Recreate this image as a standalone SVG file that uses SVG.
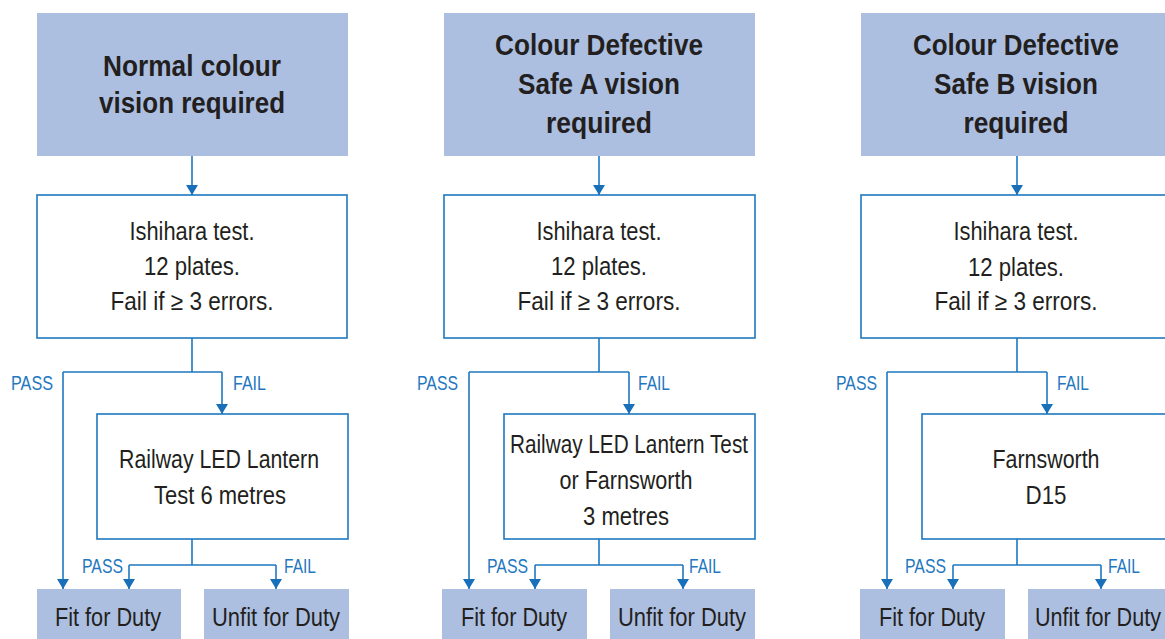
<svg xmlns="http://www.w3.org/2000/svg" width="1165" height="639" viewBox="0 0 1165 639">
<defs>
<marker id="ah" markerUnits="userSpaceOnUse" markerWidth="12" markerHeight="10" refX="6" refY="10" orient="0" viewBox="0 0 12 10">
<path d="M0,0 L12,0 L6,10 Z" fill="#1a70b8"/>
</marker>
<style>
.hdr{fill:#adbfe1}
.box{fill:#fff;stroke:#1f78c0;stroke-width:1.6}
.ht{font-family:"Liberation Sans",Arial,sans-serif;font-weight:bold;font-size:29px;fill:#231f20;text-anchor:middle}
.bt{font-family:"Liberation Sans",Arial,sans-serif;font-size:25px;fill:#231f20;text-anchor:middle}
.ft{font-family:"Liberation Sans",Arial,sans-serif;font-size:26px;fill:#231f20;text-anchor:middle}
.lb{font-family:"Liberation Sans",Arial,sans-serif;font-size:20px;fill:#1f78c0}
.c{fill:none;stroke:#1f78c0;stroke-width:1.6}
.a{fill:none;stroke:#1f78c0;stroke-width:1.6;marker-end:url(#ah)}
</style>
</defs>
<rect width="1165" height="639" fill="#fff"/>

<!-- Column 1 -->
<g id="c1-header">
<rect class="hdr" x="37" y="13" width="311" height="143"/>
<text class="ht" x="192" y="76" textLength="178" lengthAdjust="spacingAndGlyphs">Normal colour</text>
<text class="ht" x="192" y="113" textLength="186" lengthAdjust="spacingAndGlyphs">vision required</text>
</g>
<g id="c1-ishihara">
<rect class="box" x="37" y="195" width="310" height="143"/>
<text class="bt" x="192" y="240" textLength="125" lengthAdjust="spacingAndGlyphs">Ishihara test.</text>
<text class="bt" x="192" y="275" textLength="96" lengthAdjust="spacingAndGlyphs">12 plates.</text>
<text class="bt" x="192" y="310" textLength="163" lengthAdjust="spacingAndGlyphs">Fail if ≥ 3 errors.</text>
</g>
<g id="c1-lantern">
<rect class="box" x="97" y="414" width="251" height="125"/>
<text class="bt" x="219" y="468" textLength="200" lengthAdjust="spacingAndGlyphs">Railway LED Lantern</text>
<text class="bt" x="220" y="504" textLength="132" lengthAdjust="spacingAndGlyphs">Test 6 metres</text>
</g>
<g id="c1-fit">
<rect class="hdr" x="37" y="589" width="144" height="55"/>
<text class="ft" x="108" y="626" textLength="106" lengthAdjust="spacingAndGlyphs">Fit for Duty</text>
</g>
<g id="c1-unfit">
<rect class="hdr" x="204" y="589" width="145" height="55"/>
<text class="ft" x="276" y="626" textLength="128" lengthAdjust="spacingAndGlyphs">Unfit for Duty</text>
</g>

<!-- Column 2 -->
<g id="c2-header">
<rect class="hdr" x="444" y="13" width="311" height="143"/>
<text class="ht" x="599" y="55" textLength="208" lengthAdjust="spacingAndGlyphs">Colour Defective</text>
<text class="ht" x="599" y="94" textLength="162" lengthAdjust="spacingAndGlyphs">Safe A vision</text>
<text class="ht" x="599" y="133" textLength="106" lengthAdjust="spacingAndGlyphs">required</text>
</g>
<g id="c2-ishihara">
<rect class="box" x="444" y="195" width="311" height="143"/>
<text class="bt" x="599" y="240" textLength="125" lengthAdjust="spacingAndGlyphs">Ishihara test.</text>
<text class="bt" x="599" y="275" textLength="96" lengthAdjust="spacingAndGlyphs">12 plates.</text>
<text class="bt" x="599" y="310" textLength="163" lengthAdjust="spacingAndGlyphs">Fail if ≥ 3 errors.</text>
</g>
<g id="c2-lantern">
<rect class="box" x="504" y="414" width="251" height="125"/>
<text class="bt" x="629" y="453" textLength="238" lengthAdjust="spacingAndGlyphs">Railway LED Lantern Test</text>
<text class="bt" x="626" y="489" textLength="133" lengthAdjust="spacingAndGlyphs">or Farnsworth</text>
<text class="bt" x="626" y="525" textLength="86" lengthAdjust="spacingAndGlyphs">3 metres</text>
</g>
<g id="c2-fit">
<rect class="hdr" x="442" y="589" width="145" height="55"/>
<text class="ft" x="514" y="626" textLength="106" lengthAdjust="spacingAndGlyphs">Fit for Duty</text>
</g>
<g id="c2-unfit">
<rect class="hdr" x="610" y="589" width="145" height="55"/>
<text class="ft" x="682" y="626" textLength="128" lengthAdjust="spacingAndGlyphs">Unfit for Duty</text>
</g>

<!-- Column 3 -->
<g id="c3-header">
<rect class="hdr" x="861" y="13" width="311" height="143"/>
<text class="ht" x="1016" y="55" textLength="206" lengthAdjust="spacingAndGlyphs">Colour Defective</text>
<text class="ht" x="1016" y="94" textLength="164" lengthAdjust="spacingAndGlyphs">Safe B vision</text>
<text class="ht" x="1016" y="133" textLength="105" lengthAdjust="spacingAndGlyphs">required</text>
</g>
<g id="c3-ishihara">
<rect class="box" x="861" y="195" width="315" height="143"/>
<text class="bt" x="1016" y="240" textLength="125" lengthAdjust="spacingAndGlyphs">Ishihara test.</text>
<text class="bt" x="1016" y="276" textLength="96" lengthAdjust="spacingAndGlyphs">12 plates.</text>
<text class="bt" x="1016" y="310" textLength="163" lengthAdjust="spacingAndGlyphs">Fail if ≥ 3 errors.</text>
</g>
<g id="c3-farnsworth">
<rect class="box" x="922" y="414" width="254" height="125"/>
<text class="bt" x="1046" y="468" textLength="107" lengthAdjust="spacingAndGlyphs">Farnsworth</text>
<text class="bt" x="1046" y="504" textLength="41" lengthAdjust="spacingAndGlyphs">D15</text>
</g>
<g id="c3-fit">
<rect class="hdr" x="860" y="589" width="145" height="55"/>
<text class="ft" x="932" y="626" textLength="106" lengthAdjust="spacingAndGlyphs">Fit for Duty</text>
</g>
<g id="c3-unfit">
<rect class="hdr" x="1028" y="589" width="145" height="55"/>
<text class="ft" x="1098" y="626" textLength="126" lengthAdjust="spacingAndGlyphs">Unfit for Duty</text>
</g>

<!-- Connectors -->
<g id="connectors">
<path class="a" d="M192,156 V195"/>
<path class="c" d="M192,338 V372 M63,372 H222"/>
<path class="a" d="M63,372 V589"/>
<path class="a" d="M222,372 V414"/>
<path class="c" d="M192,539 V565 M129,565 H276"/>
<path class="a" d="M129,565 V589"/>
<path class="a" d="M276,565 V589"/>

<path class="a" d="M599,156 V195"/>
<path class="c" d="M599,338 V372 M469,372 H629"/>
<path class="a" d="M469,372 V589"/>
<path class="a" d="M629,372 V414"/>
<path class="c" d="M599,539 V565 M535,565 H683"/>
<path class="a" d="M535,565 V589"/>
<path class="a" d="M683,565 V589"/>

<path class="a" d="M1017,156 V195"/>
<path class="c" d="M1017,338 V372 M887,372 H1047"/>
<path class="a" d="M887,372 V589"/>
<path class="a" d="M1047,372 V414"/>
<path class="c" d="M1017,539 V565 M953,565 H1101"/>
<path class="a" d="M953,565 V589"/>
<path class="a" d="M1101,565 V589"/>
</g>
<g id="labels">
<text class="lb" x="11" y="390" textLength="42" lengthAdjust="spacingAndGlyphs">PASS</text>
<text class="lb" x="233" y="390" textLength="33" lengthAdjust="spacingAndGlyphs">FAIL</text>
<text class="lb" x="82" y="573" textLength="41" lengthAdjust="spacingAndGlyphs">PASS</text>
<text class="lb" x="284" y="573" textLength="32" lengthAdjust="spacingAndGlyphs">FAIL</text>
<text class="lb" x="417" y="390" textLength="41" lengthAdjust="spacingAndGlyphs">PASS</text>
<text class="lb" x="638" y="390" textLength="32" lengthAdjust="spacingAndGlyphs">FAIL</text>
<text class="lb" x="487" y="573" textLength="41" lengthAdjust="spacingAndGlyphs">PASS</text>
<text class="lb" x="689" y="573" textLength="32" lengthAdjust="spacingAndGlyphs">FAIL</text>
<text class="lb" x="836" y="390" textLength="41" lengthAdjust="spacingAndGlyphs">PASS</text>
<text class="lb" x="1057" y="390" textLength="32" lengthAdjust="spacingAndGlyphs">FAIL</text>
<text class="lb" x="905" y="573" textLength="41" lengthAdjust="spacingAndGlyphs">PASS</text>
<text class="lb" x="1108" y="573" textLength="32" lengthAdjust="spacingAndGlyphs">FAIL</text>
</g>
</svg>
